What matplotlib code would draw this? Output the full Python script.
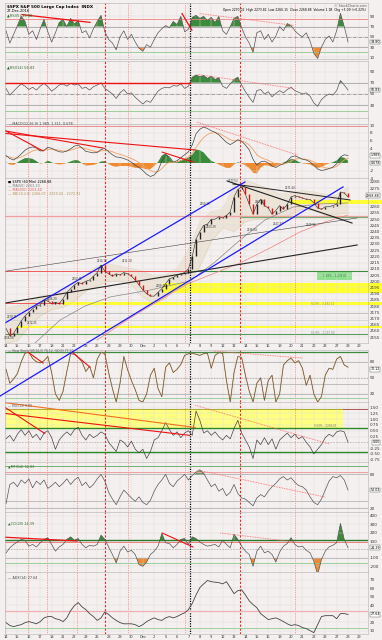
import numpy as np
import matplotlib.pyplot as plt
from matplotlib.transforms import blended_transform_factory

# trading days shown on the axis, Nov 14 - Dec 29 2016
day_labels = ['14', '15', '16', '17', '18', '21', '22', '23', '25', '28', '29', '30', 'Dec',
              '2', '5', '6', '7', '8', '9', '12', '13', '14', '15', '16', '19', '20', '21',
              '22', '23', '27', '28', '29']

# series sampled 3 times per trading day
price = [2162, 2156, 2158, 2163, 2168, 2172, 2175, 2178, 2180, 2181, 2185, 2184, 2182, 2183,
         2182, 2186, 2191, 2194, 2197, 2199, 2198, 2200, 2201, 2204, 2207, 2213, 2208, 2206,
         2204, 2206, 2205, 2207, 2206, 2204, 2201, 2197, 2193, 2190, 2188, 2188, 2191, 2194,
         2198, 2202, 2203, 2205, 2206, 2207, 2210, 2220, 2234, 2240, 2245, 2246, 2250, 2250,
         2252, 2251, 2253, 2256, 2268, 2274, 2276, 2270, 2262, 2254, 2262, 2266, 2261, 2259,
         2254, 2257, 2261, 2258, 2262, 2268, 2269, 2268, 2267, 2266, 2266, 2263, 2259, 2258,
         2260, 2260, 2261, 2262, 2272, 2271, 2268]

rsi5 = [62, 38, 55, 72, 90, 80, 55, 62, 45, 66, 84, 60, 40, 58, 78, 84, 70, 86, 75, 82, 58,
        62, 48, 66, 80, 92, 60, 45, 38, 25, 50, 62, 45, 55, 40, 28, 22, 35, 30, 45, 58, 66,
        72, 68, 80, 74, 90, 60, 65, 88, 92, 86, 90, 82, 88, 78, 90, 62, 55, 70, 86, 90, 68,
        50, 38, 20, 58, 62, 45, 55, 40, 52, 70, 62, 76, 72, 62, 55, 50, 58, 42, 18, 8, 30,
        45, 52, 40, 62, 96, 70, 40]

rsi14 = [60, 48, 55, 62, 68, 64, 58, 62, 57, 64, 69, 63, 55, 60, 66, 68, 64, 69, 66, 68, 60,
         62, 57, 63, 66, 70, 60, 55, 50, 42, 52, 58, 50, 52, 44, 38, 32, 38, 35, 45, 55, 60,
         62, 61, 65, 64, 68, 60, 64, 80, 84, 81, 83, 78, 82, 76, 79, 64, 60, 68, 76, 80, 66,
         54, 44, 35, 56, 58, 50, 54, 45, 51, 56, 52, 58, 62, 56, 53, 50, 52, 46, 34, 28, 40,
         46, 50, 48, 56, 74, 66, 57]

macd = [2.0, 1.2, 0.8, 1.5, 2.4, 3.4, 4.0, 4.3, 4.0, 3.2, 3.4, 4.2, 3.9, 3.4, 3.0, 2.9, 3.2,
        3.8, 4.5, 4.8, 4.0, 3.1, 2.9, 2.7, 2.8, 3.6, 3.9, 3.0, 2.2, 1.6, 1.5, 1.2, 0.8, 0.2,
        -0.6, -1.2, -2.0, -3.0, -3.6, -3.2, -2.0, 0.5, 2.2, 1.6, 0.3, 0.6, 1.4, 2.2, 3.0, 4.8,
        7.8, 9.0, 9.6, 9.2, 8.6, 8.2, 7.5, 6.5, 5.5, 4.9, 5.5, 6.2, 5.8, 4.8, 3.5, 1.0, -0.6,
        0.3, 0.5, 0.0, -0.8, -1.2, -0.6, -0.2, 0.5, 1.6, 1.9, 1.5, 1.0, 0.8, 0.3, -0.6, -1.6,
        -2.0, -1.8, -1.5, -1.1, -0.2, 1.6, 2.2, 2.0]
signal = [1.8, 1.6, 1.3, 1.3, 1.6, 2.1, 2.7, 3.2, 3.5, 3.4, 3.4, 3.6, 3.7, 3.6, 3.4, 3.2, 3.2,
          3.4, 3.7, 4.1, 4.1, 3.8, 3.5, 3.2, 3.0, 3.2, 3.4, 3.3, 3.0, 2.6, 2.3, 2.0, 1.6, 1.2,
          0.7, 0.1, -0.6, -1.3, -2.0, -2.4, -2.3, -1.5, -0.4, 0.2, 0.2, 0.3, 0.6, 1.1, 1.6, 2.6,
          4.2, 5.6, 6.8, 7.6, 8.0, 8.1, 7.9, 7.4, 6.8, 6.2, 5.9, 6.0, 5.9, 5.5, 4.8, 3.6, 2.2,
          1.5, 1.1, 0.7, 0.2, -0.3, -0.4, -0.3, 0.0, 0.5, 1.0, 1.2, 1.1, 1.0, 0.7, 0.3, -0.3,
          -0.9, -1.3, -1.4, -1.3, -0.9, 0.0, 0.8, 1.3]

stoch = [66, 40, 48, 58, 80, 96, 98, 86, 80, 78, 82, 90, 60, 20, 8, 25, 62, 95, 94, 88, 80,
         62, 72, 50, 85, 98, 95, 60, 30, 5, 40, 90, 65, 45, 28, 8, 5, 20, 55, 68, 30, 15, 70,
         78, 60, 66, 75, 92, 95, 96, 94, 92, 95, 96, 68, 92, 97, 96, 45, 5, 60, 90, 88, 55,
         25, 5, 40, 50, 8, 45, 55, 5, 20, 74, 82, 87, 78, 82, 68, 36, 55, 20, 5, 15, 55, 68,
         66, 85, 90, 74, 70]

roc = [0.15, 0.3, 0.05, 0.35, 0.55, 0.3, 0.5, 0.2, 0.35, 0.1, 0.4, 0.5, 0.2, -0.3, 0.1, 0.3,
       0.45, 0.3, 0.55, 0.65, 0.3, 0.1, 0.35, 0.2, 0.3, 0.45, 0.35, 0.0, -0.2, -0.4, 0.1, 0.0,
       -0.2, 0.05, -0.3, -0.45, -0.3, -0.7, -0.4, 0.1, 0.2, 0.5, 0.85, 0.55, 0.3, 0.45, 0.2,
       0.4, 0.5, 0.3, 1.35, 0.95, 0.4, 0.5, 0.3, 0.45, 0.25, 0.1, 0.3, 0.15, 0.6, 0.95, 0.4,
       0.1, -0.2, -0.7, 0.1, -0.1, 0.2, -0.1, 0.15, -0.3, 0.1, 0.25, 0.4, 0.2, 0.35, 0.15,
       0.25, 0.0, -0.2, -0.5, -0.3, -0.1, 0.2, 0.35, 0.25, 0.45, 0.5, 0.45, 0.0]

mfi = [28, 62, 66, 58, 70, 64, 72, 56, 68, 62, 70, 55, 60, 66, 58, 64, 72, 62, 70, 75, 60,
       66, 56, 62, 72, 80, 68, 48, 36, 26, 40, 52, 45, 38, 32, 40, 30, 26, 34, 50, 62, 70,
       80, 64, 58, 68, 74, 80, 70, 78, 84, 88, 82, 70, 58, 63, 50, 55, 42, 48, 62, 46, 38,
       36, 30, 24, 38, 44, 40, 50, 58, 64, 72, 76, 70, 74, 66, 60, 58, 52, 40, 30, 26, 36,
       52, 68, 76, 74, 78, 70, 52]

cci = [-40, 20, 60, 90, 120, 110, 40, 60, 30, 80, 120, 140, 60, -20, 30, 60, 120, 150, 110,
       130, 60, 20, 50, 40, 60, 170, 120, 30, -60, -160, -20, 40, -30, -10, -60, -180, -200,
       -150, -60, -20, 40, 190, 80, 70, 20, 60, 120, 130, 60, 150, 130, 90, 60, 40, 50, 60,
       30, 110, 60, 20, 180, 120, 40, -20, -60, -200, -20, 40, -40, -20, -60, -150, -30, 40,
       70, 140, 60, 30, 40, -10, -40, -140, -300, -120, -20, 30, 50, 80, 310, 120, 20]

adx = [19.4, 16, 14.7, 16, 17, 19.4, 20.6, 19.4, 18, 20.6, 25, 26.5, 26.5, 24, 23, 20.6, 25,
       33.5, 39.4, 43, 38, 34.7, 30, 26.5, 22, 25, 32, 29, 25, 22, 19.4, 18, 18, 18, 17, 14.7,
       17, 20.6, 23, 25, 23, 22, 25, 26.5, 25, 26.5, 29, 31, 34.7, 42, 52, 60.6, 65, 69, 67.6,
       67, 66.5, 65, 67.6, 60.6, 53.5, 57, 58, 52, 45, 40.6, 37, 30, 26.5, 23, 24, 25, 23,
       20.6, 18, 16, 17, 16, 13.5, 12.4, 10, 7.6, 17, 26.5, 27.6, 27.6, 27.6, 24, 30, 30, 29]

# Bollinger band, one value per day
bb_upper = [2178, 2180, 2184, 2188, 2189, 2192, 2200, 2205, 2212, 2214, 2212, 2210, 2208, 2204,
            2205, 2210, 2225, 2248, 2256, 2258, 2278, 2282, 2278, 2275, 2270, 2272, 2273, 2272,
            2270, 2269, 2276]
bb_lower = [2150, 2152, 2163, 2172, 2177, 2179, 2184, 2192, 2196, 2200, 2200, 2197, 2187, 2182,
            2186, 2196, 2198, 2212, 2232, 2243, 2240, 2248, 2250, 2250, 2250, 2254, 2258, 2257,
            2253, 2254, 2255]

ma50_day = [2.54, 4.74, 6.93, 9.12, 12.63, 16.14, 18.33, 20.53, 22.72, 25.18, 27.54, 30.0]
ma50_val = [2150.2, 2168.7, 2180, 2187.3, 2192.9, 2200.2, 2215.5, 2233.2, 2249.4, 2259.8,
            2262.3, 2263.1]
ma200_day = [7.98, 10.88, 13.51, 15.88, 18.33, 20.53, 23.16, 25.79, 27.98, 30.0]
ma200_val = [2152.6, 2170.3, 2184.8, 2197.7, 2206.6, 2214.7, 2226.8, 2239.7, 2247.7, 2253.4]

# vertical markers (day positions)
red_dots = [1.93, 3.6, 6.23, 10.7, 15.7, 25.35]
red_dash = [8.68, 20.53]
black_dot = 16.14

W, H = 382, 640
BG = '#f4f0f0'
fig = plt.figure(figsize=(W / 100, H / 100), dpi=100, facecolor=BG)
x = np.arange(len(price)) / 3.0
fs = 3


def panel(top, bot, lo, hi, ticks, fmt='{:g}'):
    ax = fig.add_axes([5 / W, 1 - bot / H, 363 / W, (bot - top) / H])
    ax.set_facecolor(BG)
    ax.set_xlim(-0.09, 31.75)
    ax.set_ylim(lo, hi)
    ax.yaxis.tick_right()
    ax.set_yticks(ticks)
    ax.set_yticklabels([fmt.format(t) for t in ticks])
    ax.set_xticks(range(len(day_labels)))
    ax.tick_params(axis='both', length=0, labelsize=fs, pad=1, colors='#333333')
    ax.set_xticklabels([])
    ax.grid(True, color='#dcdcdc', lw=0.3)
    for s in ax.spines.values():
        s.set_color('#b0b0b0')
        s.set_linewidth(0.4)
    for d in red_dots:
        ax.axvline(d, color='#ff5050', lw=0.5, ls=(0, (1, 1.5)))
    for d in red_dash:
        ax.axvline(d, color='#ff2020', lw=0.8, ls=(0, (2, 1.5)))
    ax.axvline(black_dot, color='black', lw=0.9, ls=(0, (1, 1)))
    return ax


def value_box(ax, v, txt):
    tr = blended_transform_factory(fig.transFigure, ax.transData)
    ax.text(380 / W, v, txt, fontsize=2.3, va='center', ha='right', transform=tr,
            bbox=dict(boxstyle='square,pad=0.12', fc='white', ec='#555555', lw=0.3))


def osc_fill(ax, y, hi, lo):
    y = np.array(y, dtype=float)
    ax.fill_between(x, hi, y, where=y > hi, interpolate=True, color='#3c8a3c', lw=0)
    ax.fill_between(x, lo, y, where=y < lo, interpolate=True, color='#f08a30', lw=0)


# ---- RSI(5)
ax = panel(3, 59, 7, 116, [10, 30, 50, 70, 90])
ax.axhline(85, color='#f08080', lw=0.6)
ax.axhline(70, color='#999999', lw=0.5)
ax.axhline(50, color='#666666', lw=0.4, ls='-.')
ax.axhline(30, color='#999999', lw=0.5)
ax.axhline(20, color='#90c890', lw=0.6)
osc_fill(ax, rsi5, 70, 30)
ax.plot(x, rsi5, color='#555555', lw=0.5)
ax.plot([1.4, 7.37], [93.4, 78.3], color='#ee1111', lw=0.9)
ax.plot([15.44, 16.3], [95.3, 63.2], color='#ee1111', lw=0.9)
ax.plot([17.0, 25.2], [95.3, 72.6], color='#ff6060', lw=0.6, ls=(0, (1, 1)))
ax.text(0.1, 108, '$SPX S&P 500 Large Cap Index  INDX', fontsize=3, weight='bold', va='center')
ax.text(0.1, 100, '27-Dec-2016', fontsize=2.6, va='center')
ax.text(0.1, 92, '\u25b2RSI(5) 39.80', fontsize=2.6, va='center', color='#2a6a2a')
ax.text(31.6, 111, '\u00a9 StockCharts.com', fontsize=2.4, ha='right', va='center', color='#555555')
ax.text(31.6, 103, 'Open 2270.02  High 2273.82  Low 2266.15  Close 2268.88  Volume 1.1B  Chg +5.09 (+0.22%)',
        fontsize=2.2, ha='right', va='center')
value_box(ax, 40, '39.80')

# ---- RSI(14)
ax = panel(61, 118, 7, 109, [30, 50, 70, 90])
ax.axhline(70, color='#999999', lw=0.5)
ax.axhline(50, color='#666666', lw=0.4, ls='-.')
ax.axhline(30, color='#999999', lw=0.5)
ax.axhline(20, color='#90c890', lw=0.6)
osc_fill(ax, rsi14, 70, -10)
ax.plot(x, rsi14, color='#555555', lw=0.5)
ax.plot([-0.6, 16.14], [70.5, 70.5], color='#ee1111', lw=1.0)
ax.plot([16.8, 25.2], [85, 60], color='#ff6060', lw=0.6, ls=(0, (1, 1)))
ax.text(0.1, 98, '\u25b2RSI(14) 56.83', fontsize=2.6, va='center', color='#2a6a2a')
value_box(ax, 57, '56.83')

# ---- MACD
ax = panel(118, 178, -4, 12, [-4, -2, 4, 6, 8, 10])
ax.axhline(10, color='#f08080', lw=0.6)
ax.axhline(10.4, color='#aaaaaa', lw=0.4)
hist = np.array(macd) - np.array(signal)
ax.fill_between(x, 0, hist, where=hist > 0, interpolate=True, color='#3c8a3c', lw=0)
ax.fill_between(x, 0, hist, where=hist < 0, interpolate=True, color='#f08a30', lw=0)
ax.plot(x, signal, color='#f0a060', lw=0.6)
ax.plot(x, macd, color='#444444', lw=0.5)
for y0, d1, v1 in [(9.4, 3.25, 3.2), (8.8, 8.5, 4.0), (8.0, 16.6, 3.47)]:
    ax.plot([-0.53, d1], [y0, v1], color='#ee1111', lw=0.8)
ax.plot([13.7, 16.4], [2.9, 0.27], color='#ee1111', lw=0.8)
ax.plot([16.75, 25.6], [10.9, 2.1], color='#ff6060', lw=0.6, ls=(0, (1, 1)))
ax.text(0.3, 10.3, '\u2014MACD(12,26,9) 1.989, 1.311, 0.678', fontsize=2.4, va='center', color='#444444')
value_box(ax, 2.0, '1.989')
value_box(ax, 0.0, '0.678')

# ---- price
axp = panel(178, 343, 2150.2, 2283.2,
            [t for t in range(2155, 2281, 5) if t not in (2265, 2270)])
axp.set_zorder(5)
ax = axp
ax.set_xticklabels(day_labels)
ax.tick_params(axis='x', labelsize=2.6, pad=1)
xd = np.arange(len(bb_upper))
ax.fill_between(xd, bb_lower, bb_upper, color='#ebe1cf', alpha=0.75, lw=0)
ax.plot(xd, bb_upper, color='#dccdb0', lw=0.3)
ax.plot(xd, bb_lower, color='#dccdb0', lw=0.3)
for lo, hi, d0 in [(2190.5, 2198.5, 13.8), (2180.8, 2183.2, 4.9), (2162.3, 2163.9, 0.96),
                   (2262.3, 2265.5, 24.9)]:
    ax.fill_between([d0, 33], lo, hi, color='#ffff30', lw=0, clip_on=False)
ax.axhline(2252.2, color='#f0a0a0', lw=1.0)
ax.plot([20.5, 31.75], [2251.4, 2251.4], color='#70b070', lw=0.8)
ax.plot([-0.1, 16.1], [2208.2, 2208.2], color='#ee4444', lw=0.6)
ax.plot([16.1, 31.75], [2208.2, 2208.2], color='#3c8a3c', lw=0.8)
ax.plot([-0.1, 4.9], [2182.4, 2182.4], color='#ee4444', lw=0.6)
ax.axhline(2174.4, color='#bbbbbb', lw=0.6)
ax.axhline(2168.7, color='#cccccc', lw=0.5)
ax.axhline(2157.4, color='#5a9a5a', lw=0.8)
ax.plot(ma50_day, ma50_val, color='#888888', lw=0.5)
ax.plot(ma200_day, ma200_val, color='#f08080', lw=0.5)
ax.plot([-0.53, 30.8], [2207.4, 2251], color='#444444', lw=0.4)
ax.plot([-0.09, 30.8], [2182.4, 2229.2], color='#222222', lw=0.8)
ax.plot([19.39, 30.35], [2280.8, 2246.9], color='#222222', lw=0.8)
ax.plot([19.9, 30.18], [2278.4, 2265.5], color='#222222', lw=0.7)
ax.plot([-0.09, 20.96], [2166.3, 2280], color='#1a1aff', lw=0.9)
ax.plot([-0.53, 29.56], [2107.4, 2276], color='#1a1aff', lw=0.9, clip_on=False)
pc = np.array(price, dtype=float)
prev = np.r_[pc[0], pc[:-1]]
up = pc >= prev
ax.plot(x, pc, color='#222222', lw=0.4)
ax.vlines(x[up], prev[up], pc[up], color='#222222', lw=1.0)
ax.vlines(x[~up], prev[~up], pc[~up], color='#e01010', lw=1.0)
ax.fill_between([27.3, 30.35], 2201, 2207.4, color='#90e090', lw=0)
ax.text(28.8, 2204.2, '1.38% - 2,238.01', fontsize=2, ha='center', va='center', color='#408040')
ax.text(27.8, 2181.3, '50.0% - 2,182.11', fontsize=2, ha='center', va='center', color='#888888')
ax.text(27.8, 2158.6, '61.8% - 2,157.80', fontsize=2, ha='center', va='center', color='#888888')
for d, p, t in [(19.9, 2280.5, '2277.53'), (24.9, 2275, '2271.44'), (22.3, 2264, '2267.41'),
                (17.5, 2262, '2259.35'), (18.0, 2243.5, '2243.29'), (21.6, 2241.5, '2236.84'),
                (23.9, 2246, '2247.37'), (26.8, 2245, '2249.96'), (8.4, 2216.5, '2214.10'),
                (10.6, 2216.5, '2211.20'), (13.6, 2196, '2209.48'), (6.2, 2202, '2202.41'),
                (4.0, 2186, '2186.29'), (0.5, 2171, '2170.31'), (2.3, 2166, '2172.25'),
                (0.3, 2154.5, '2156.08')]:
    ax.text(d, p, t, fontsize=1.9, ha='center', va='center', color='#333333')
ax.text(0.2, 2280.5, '\u25a0 $SPX (60 Min) 2268.88', fontsize=2.4, va='center')
ax.text(0.2, 2277, '\u2014 MA(50) 2263.10', fontsize=2.4, va='center', color='#777777')
ax.text(0.2, 2273.5, '\u2014 MA(200) 2253.40', fontsize=2.4, va='center', color='#e06060')
ax.text(0.2, 2270, '\u2014 BB(20,2.0) 2266.07 - 2259.24 - 2272.91', fontsize=2.4, va='center', color='#b09050')
value_box(ax, 2268.9, '2268.88')

# ---- slow stochastic
ax = panel(350, 402, 5, 102, [20, 50, 80])
ax.axhline(98, color='#3c8a3c', lw=0.9)
ax.axhline(80, color='#aaaaaa', lw=0.5)
ax.axhline(50, color='#888888', lw=0.4, ls=(0, (3, 2)))
ax.axhline(38, color='#aaaaaa', lw=0.5)
ax.axhline(20, color='#aaaaaa', lw=0.5)
ax.axhline(12, color='#90c890', lw=0.6)
ax.plot(x, stoch, color='#b08850', lw=0.7)
ax.plot(x, stoch, color='#333333', lw=0.2)
ax.plot([1.93, 3.25], [98, 77.6], color='#ee1111', lw=0.8)
ax.plot([5.8, 7.37], [98, 70], color='#ee1111', lw=0.8)
ax.plot([18.2, 26.0], [100, 87], color='#ff6060', lw=0.6, ls=(0, (1, 1)))
ax.text(0.2, 96, '\u2014 Slow Stoch %K(14,3) 70.12, %D(3) 77.90', fontsize=2.2, va='bottom', color='#555555')
value_box(ax, 66, '70.12')

# ---- rate of change
ax = panel(402, 462, -0.85, 1.74, [-0.75, -0.5, -0.25, 0.25, 0.5, 0.75, 1.0, 1.25, 1.5],
           fmt='{:.2f}')
ax.fill_between([-0.1, 29.56], 0.63, 1.45, color='#ffff80', lw=0)
ax.plot([-0.1, 29.56], [1.45, 1.45], color='#a0a020', lw=0.6)
ax.plot([29.56, 31.75], [1.45, 1.45], color='#a04040', lw=0.6)
ax.axhline(0.63, color='#2a8a2a', lw=1.0)
ax.axhline(-0.42, color='#2a8a2a', lw=1.0)
ax.axhline(0, color='#999999', lw=0.4, ls=(0, (3, 2)))
ax.plot(x, roc, color='#444444', lw=0.5)
ax.plot([-0.53, 3.4], [1.65, 0.38], color='#ee1111', lw=0.8)
ax.plot([-0.53, 16.6], [1.74, 0.64], color='#f07020', lw=0.8)
ax.plot([-0.53, 16.1], [1.27, 0.3], color='#ee1111', lw=0.8)
ax.plot([16.6, 28.4], [1.6, -0.08], color='#ff6060', lw=0.6, ls=(0, (1, 1)))
ax.text(0.2, 1.58, '\u2014 ROC(12) 0.00', fontsize=2.2, va='center', color='#555555')
ax.text(28.0, 0.70, '0.63% - 2266.01', fontsize=2, ha='center', va='center', color='#777777')
value_box(ax, 0.0, '0.00')

# ---- MFI
ax = panel(462, 512, 13, 102, [20, 80])
ax.axhline(95, color='#70b070', lw=0.7)
ax.axhline(84, color='#f0a0a0', lw=0.7)
ax.axhline(80, color='#aaaaaa', lw=0.5)
ax.axhline(32, color='#aaaaaa', lw=0.5)
ax.axhline(20, color='#aaaaaa', lw=0.5)
osc_fill(ax, mfi, 80, -10)
ax.plot(x, mfi, color='#555555', lw=0.5)
ax.plot([16.8, 28.0], [87.7, 39.5], color='#ff6060', lw=0.6, ls=(0, (1, 1)))
ax.text(0.2, 93, '\u25b2MFI(14) 52.03', fontsize=2.4, va='center', color='#2a6a2a')
value_box(ax, 52, '52.03')

# ---- CCI
ax = panel(512, 572, -268, 446, [-200, -100, 100, 200, 300, 400])
ax.axhline(110, color='#2a7a2a', lw=1.0)
ax.axhline(88, color='#f08080', lw=0.7)
ax.axhline(0, color='#999999', lw=0.4, ls=(0, (3, 2)))
ax.axhline(-100, color='#aaaaaa', lw=0.5)
ax.axhline(-164, color='#90c890', lw=0.6)
osc_fill(ax, cci, 100, -100)
ax.plot(x, cci, color='#555555', lw=0.5)
ax.plot([-0.53, 6.23], [149, 101], color='#ee1111', lw=0.9)
ax.plot([13.7, 16.4], [196, 30], color='#ee1111', lw=0.8)
ax.plot([18.8, 26.05], [196, 77], color='#ff6060', lw=0.6, ls=(0, (1, 1)))
ax.text(0.2, 310, '\u25b2CCI(20) 24.39', fontsize=2.4, va='center', color='#2a6a2a')
value_box(ax, 20, '24.39')

# ---- ADX
ax = panel(572, 634, 6, 79, [10, 20, 40, 50, 60, 70])
ax.axhline(33.5, color='#f0b0b0', lw=0.9)
ax.axhline(13, color='#90c890', lw=0.6)
ax.plot(x, adx, color='#444444', lw=0.6)
ax.text(0.2, 72, '\u2014 ADX(14) 27.64', fontsize=2.4, va='center', color='#444444')
value_box(ax, 29, '27.64')
ax.set_xticklabels(day_labels)
ax.tick_params(axis='x', labelsize=2.6, pad=1)

fig.savefig('out.png', dpi=100, facecolor=BG)
